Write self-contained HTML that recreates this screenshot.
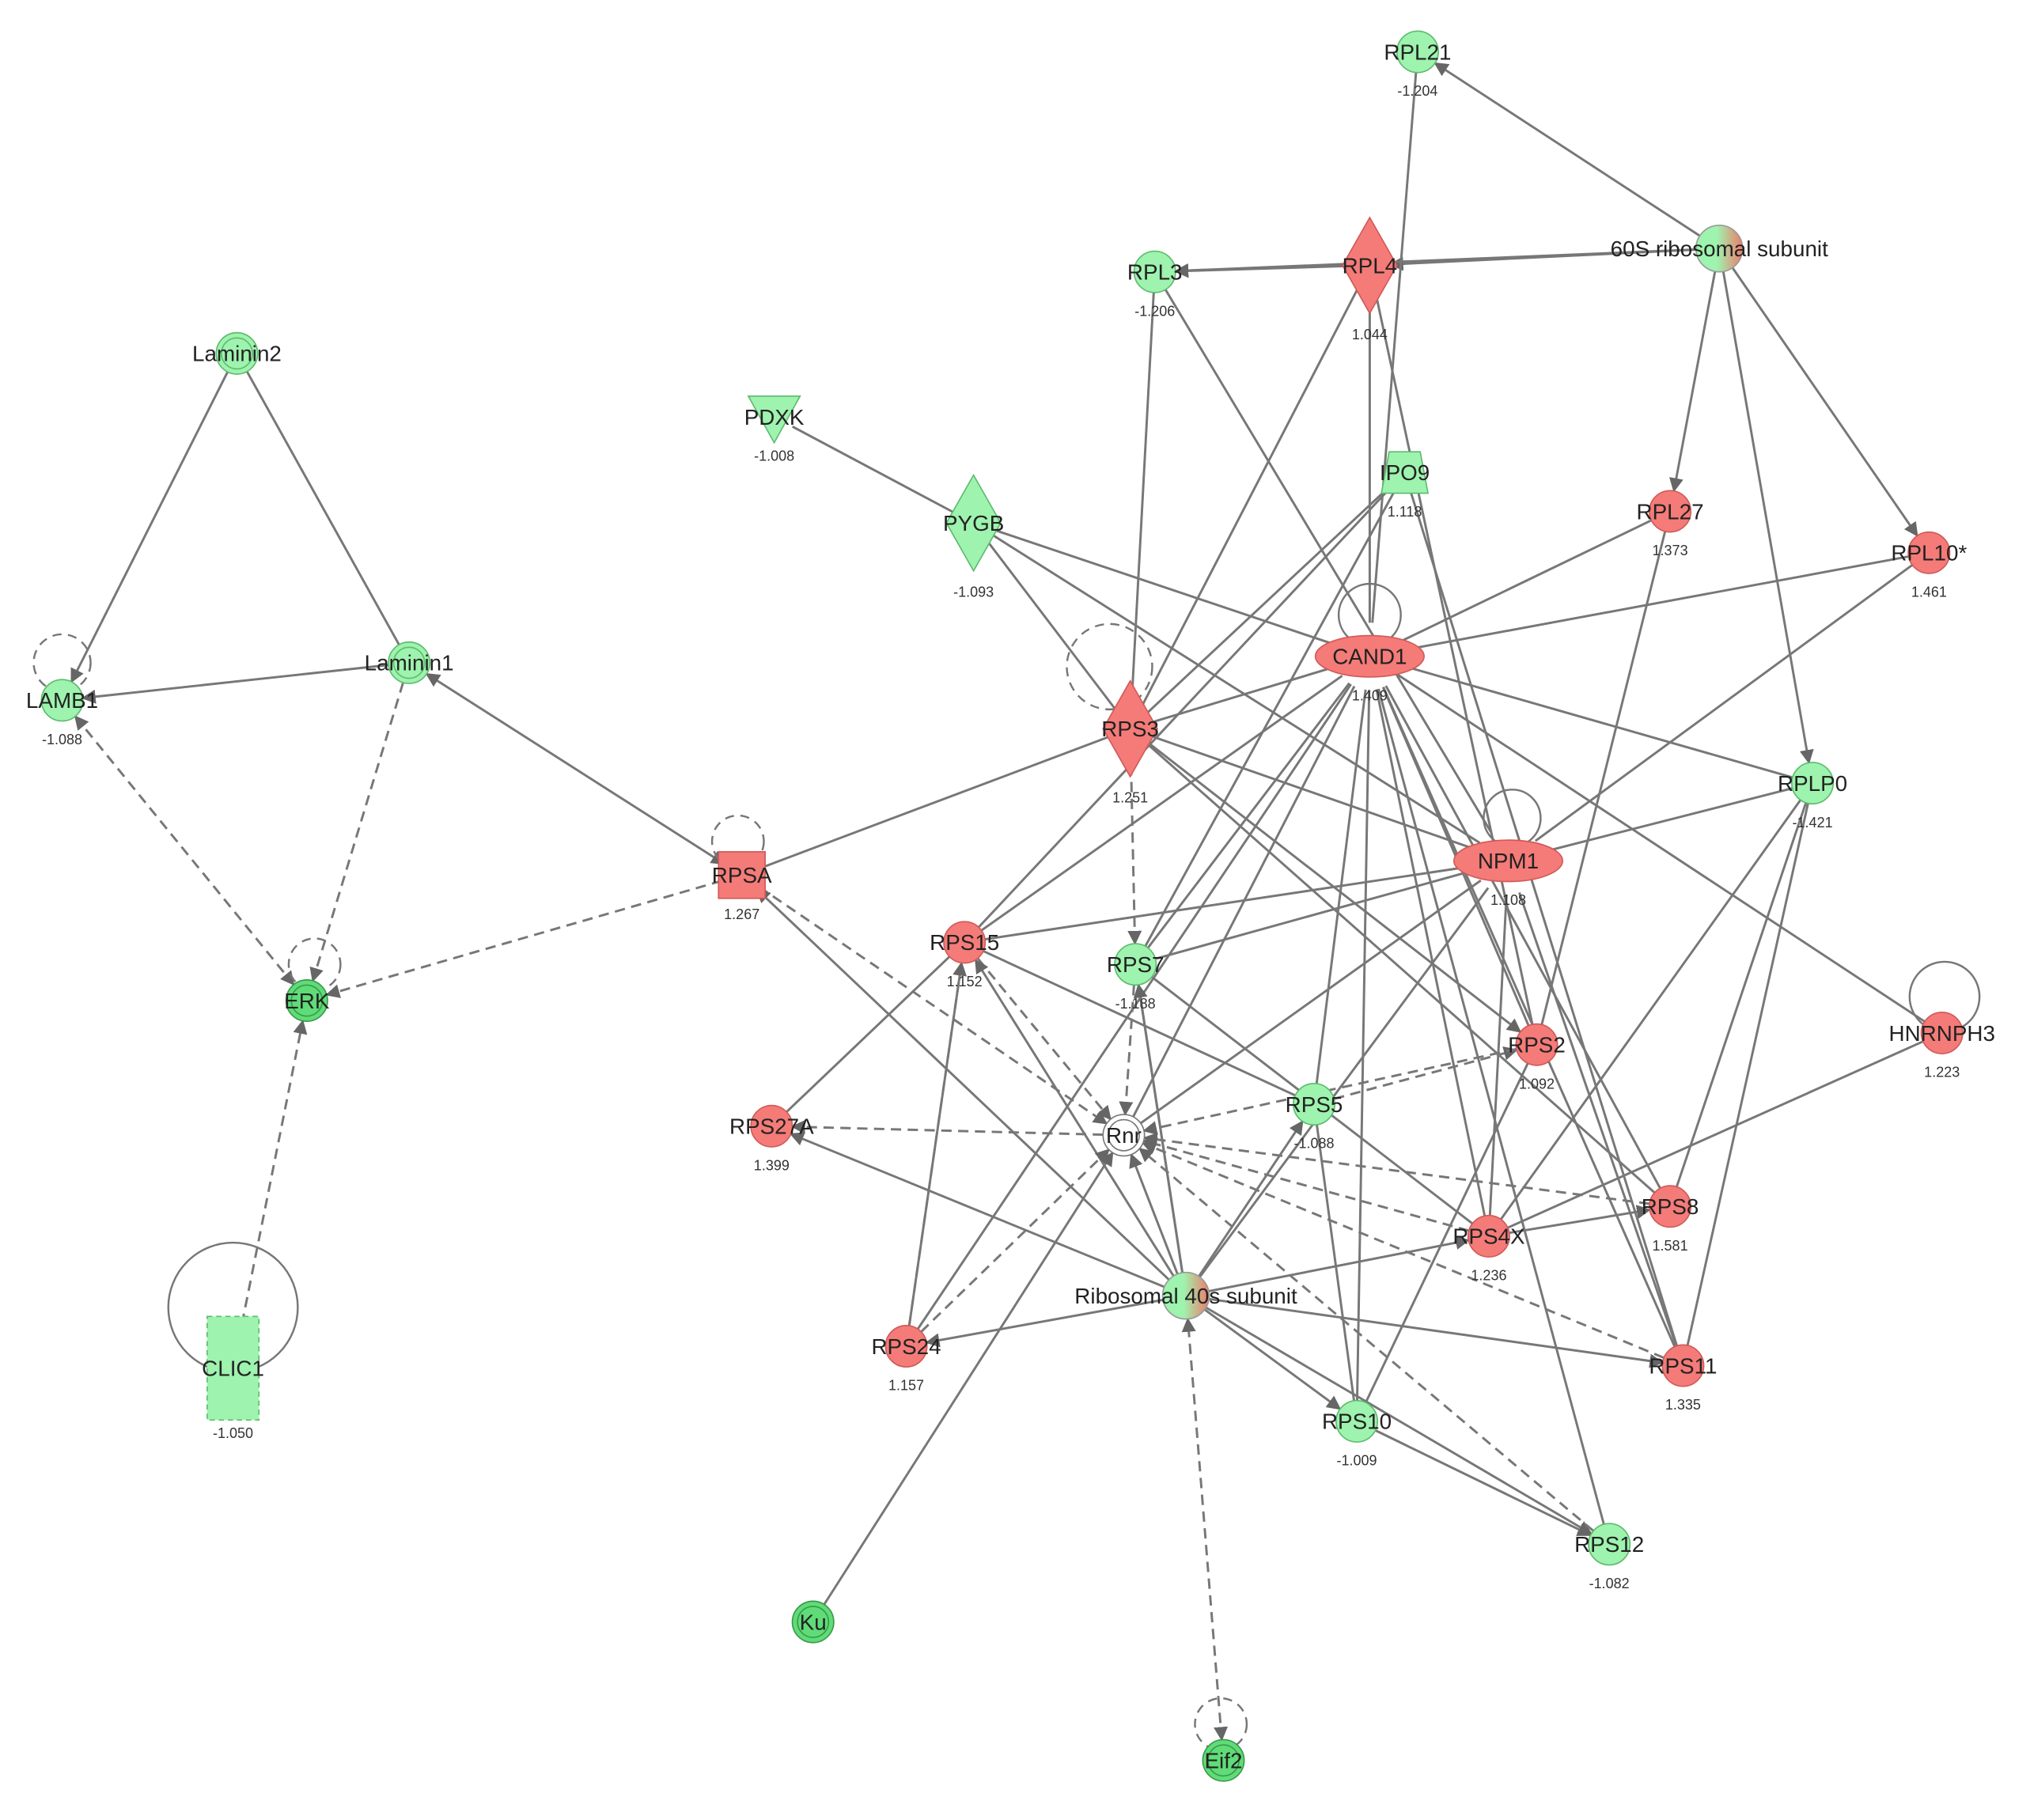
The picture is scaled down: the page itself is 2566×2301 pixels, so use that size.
<!DOCTYPE html>
<html><head><meta charset="utf-8"><style>
html,body{margin:0;padding:0;background:#fff;}
svg{display:block}
text{font-family:"Liberation Sans",sans-serif;}
</style></head><body>
<svg id="s" xmlns="http://www.w3.org/2000/svg" width="2566" height="2301" viewBox="0 0 1568 1406">
<defs>
<marker id="a" viewBox="0 0 10 10" refX="9" refY="5" markerWidth="11" markerHeight="11" markerUnits="userSpaceOnUse" orient="auto-start-reverse"><path d="M0,0L10,5L0,10z" fill="#666"/></marker>
<linearGradient id="gr" x1="0" x2="1"><stop offset="0.45" stop-color="#9ef3ae"/><stop offset="1" stop-color="#f07a6a"/></linearGradient>
</defs>
<g id="E" stroke="#777" stroke-width="1.8" fill="none"></g>
<g id="L" stroke="#777" stroke-width="1.5" fill="none">
<circle cx="1058" cy="475" r="24"/>
<circle cx="1168" cy="632" r="22"/>
<circle cx="1502" cy="770" r="27"/>
<circle cx="180" cy="1010" r="50"/>
<circle cx="857" cy="515" r="33" stroke-dasharray="7,5"/>
<circle cx="48" cy="512" r="22" stroke-dasharray="7,5"/>
<circle cx="570" cy="650" r="20" stroke-dasharray="7,5"/>
<circle cx="243" cy="745" r="20" stroke-dasharray="7,5"/>
<circle cx="943" cy="1332" r="20" stroke-dasharray="7,5"/>
</g>
<g id="N"></g>
</svg>
<script>
var N={
RPL21:[1095,40,'c','g','-1.204'],
S60:[1328,192,'c','gr',''],
RPL3:[892,210,'c','g','-1.206'],
RPL4:[1058,205,'d','r','1.044'],
Laminin2:[183,273,'c2','g',''],
PDXK:[598,322,'t','g','-1.008'],
PYGB:[752,404,'d','g','-1.093'],
IPO9:[1085,365,'tr','g','1.118'],
RPL27:[1290,395,'c','r','1.373'],
'RPL10*':[1490,427,'c','r','1.461'],
CAND1:[1058,507,'e','r','1.409'],
Laminin1:[316,512,'c2','g',''],
LAMB1:[48,541,'c','g','-1.088'],
RPS3:[873,563,'d','r','1.251'],
RPLP0:[1400,605,'c','g','-1.421'],
RPSA:[573,676,'s','r','1.267'],
NPM1:[1165,665,'e','r','1.108'],
RPS15:[745,728,'c','r','1.152'],
RPS7:[877,745,'c','g','-1.188'],
ERK:[237,773,'c','G',''],
RPS2:[1187,807,'c','r','1.092'],
HNRNPH3:[1500,798,'c','r','1.223'],
RPS27A:[596,870,'c','r','1.399'],
Rnr:[868,877,'c2','w',''],
RPS5:[1015,853,'c','g','-1.088'],
RPS8:[1290,932,'c','r','1.581'],
RPS4X:[1150,955,'c','r','1.236'],
S40:[916,1001,'c','gr',''],
CLIC1:[180,1057,'rect','g','-1.050'],
RPS24:[700,1040,'c','r','1.157'],
RPS11:[1300,1055,'c','r','1.335'],
RPS10:[1048,1098,'c','g','-1.009'],
RPS12:[1243,1193,'c','g','-1.082'],
Ku:[628,1253,'c','G',''],
Eif2:[945,1360,'c','G','']};
var E=[
['S60','RPL21',1],['S60','RPL4',1],['RPL4','RPL3',1],['S60','RPL3',1],['S60','RPL27',1],['S60','RPL10*',1],['S60','RPLP0',1],
['RPL21','CAND1'],['Laminin2','LAMB1',1],['Laminin2','Laminin1'],['Laminin1','LAMB1',1],['Laminin1','ERK',1,0,1],['LAMB1','ERK',1,1,1],
['Laminin1','RPSA',1,1],['RPSA','ERK',1,0,1],['CLIC1','ERK',1,0,1],
['PDXK','PYGB'],['PYGB','CAND1'],['PYGB','RPS3'],['PYGB','NPM1'],['RPL3','RPS3',1],['RPL3','NPM1'],['RPL4','RPS3'],['RPL4','CAND1'],['RPL4','RPS2'],
['IPO9','RPS3'],['IPO9','RPS7'],['IPO9','RPS11'],['IPO9','RPS15'],
['CAND1','RPL27'],['CAND1','RPL10*'],['CAND1','RPLP0'],['CAND1','RPS3'],['CAND1','RPS15'],['CAND1','RPS7'],['CAND1','RPS5'],['CAND1','RPS2'],['CAND1','RPS4X'],['CAND1','RPS8'],['CAND1','RPS11'],['CAND1','Rnr'],['CAND1','RPS24'],['CAND1','HNRNPH3'],['CAND1','RPS10'],['CAND1','RPS12'],
['RPSA','RPS3'],['RPS3','NPM1'],['RPS3','RPS2',1],['RPS3','RPS8'],['RPS7','RPS3',1,1,1],
['NPM1','RPL10*'],['NPM1','RPLP0'],['NPM1','RPS15'],['NPM1','RPS7'],['NPM1','RPS4X'],['NPM1','RPS11'],['NPM1','Rnr'],['NPM1','S40'],
['RPLP0','RPS4X'],['RPLP0','RPS8'],['RPLP0','RPS11'],['HNRNPH3','RPS4X'],['RPL27','RPS2'],
['RPSA','Rnr',1,0,1],['S40','RPSA',1],['RPS15','Rnr',1,0,1],['RPS15','RPS27A'],['RPS15','RPS5'],['RPS15','RPS24'],
['RPS7','Rnr',1,0,1],['RPS7','RPS4X'],['RPS7','S40'],['Rnr','RPS27A',1,0,1],
['S40','RPS27A',1],['S40','RPS24',1],['S40','RPS10',1],['S40','RPS12',1],['S40','RPS4X',1],['S40','RPS11',1],['S40','RPS5',1],['S40','RPS7',1],['S40','Rnr',1],['S40','RPS15',1],
['RPS5','RPS2',1,0,1],['RPS2','Rnr',1,0,1],['RPS8','Rnr',1,0,1],['RPS4X','Rnr',1,0,1],['RPS11','Rnr',1,0,1],['RPS12','Rnr',1,0,1],['RPS24','Rnr',1,0,1],
['Ku','Rnr',1],['Eif2','S40',1,1,1],['RPS4X','RPS8',1],['RPS10','RPS5'],['RPS10','RPS2'],['RPS10','RPS12',1],['RPS24','RPS15',1,0,1]];
var ns='http://www.w3.org/2000/svg';
function el(t,a,p){var e=document.createElementNS(ns,t);for(var k in a)e.setAttribute(k,a[k]);p.appendChild(e);return e;}
var Eg=document.getElementById('E'),Ng=document.getElementById('N');
function rad(n){var t=N[n][2];return t=='e'?26:t=='rect'?22:(n=='S60'||n=='S40')?18:16;}
E.forEach(function(e){var a=N[e[0]],b=N[e[1]];var dx=b[0]-a[0],dy=b[1]-a[1],d=Math.hypot(dx,dy);var ra=rad(e[0]),rb=rad(e[1]);
var at={x1:a[0]+dx/d*ra,y1:a[1]+dy/d*ra,x2:b[0]-dx/d*rb,y2:b[1]-dy/d*rb};
if(e[2])at['marker-end']='url(#a)';if(e[3])at['marker-start']='url(#a)';if(e[4])at['stroke-dasharray']='8,5';el('line',at,Eg);});
var col={g:['#9ef3ae','#5dbb6e'],G:['#5fdc78','#3a9a4a'],r:['#f47b78','#d05a58'],w:['#fff','#777'],gr:['url(#gr)','#999']};
var lbl={S60:'60S ribosomal subunit',S40:'Ribosomal 40s subunit'};
for(var k in N){var n=N[k],x=n[0],y=n[1],c=col[n[3]],f=c[0],s=c[1];
switch(n[2]){
case 'c':el('circle',{cx:x,cy:y,r:(k=='S60'||k=='S40')?18:16,fill:f,stroke:s,'stroke-width':1},Ng);
 if(n[3]=='G')el('circle',{cx:x,cy:y,r:12,fill:'none',stroke:'#3a9a4a','stroke-width':1},Ng);break;
case 'c2':el('circle',{cx:x,cy:y,r:16,fill:f,stroke:s,'stroke-width':1},Ng);el('circle',{cx:x,cy:y,r:12,fill:'none',stroke:s,'stroke-width':1},Ng);break;
case 'd':el('polygon',{points:(x)+','+(y-37)+' '+(x+21)+','+y+' '+x+','+(y+37)+' '+(x-21)+','+y,fill:f,stroke:s},Ng);break;
case 'e':el('ellipse',{cx:x,cy:y,rx:42,ry:16,fill:f,stroke:s},Ng);break;
case 's':el('rect',{x:x-18,y:y-18,width:36,height:36,fill:f,stroke:s},Ng);break;
case 't':el('polygon',{points:(x-20)+','+(y-16)+' '+(x+20)+','+(y-16)+' '+x+','+(y+20),fill:f,stroke:s},Ng);break;
case 'tr':el('polygon',{points:(x-18)+','+(y+16)+' '+(x+18)+','+(y+16)+' '+(x+12)+','+(y-16)+' '+(x-12)+','+(y-16),fill:f,stroke:s},Ng);break;
case 'rect':el('rect',{x:x-20,y:y-40,width:40,height:80,fill:f,stroke:s,'stroke-dasharray':'4,3'},Ng);break;}
var t=el('text',{x:x,y:y+6,'font-size':17,'text-anchor':'middle',fill:'#222'},Ng);t.textContent=lbl[k]||k;
if(n[4]){var off=n[2]=='d'?57:n[2]=='rect'?54:34;var v=el('text',{x:x,y:y+off,'font-size':11,'text-anchor':'middle',fill:'#333'},Ng);v.textContent=n[4];}}
</script>
</body></html>
